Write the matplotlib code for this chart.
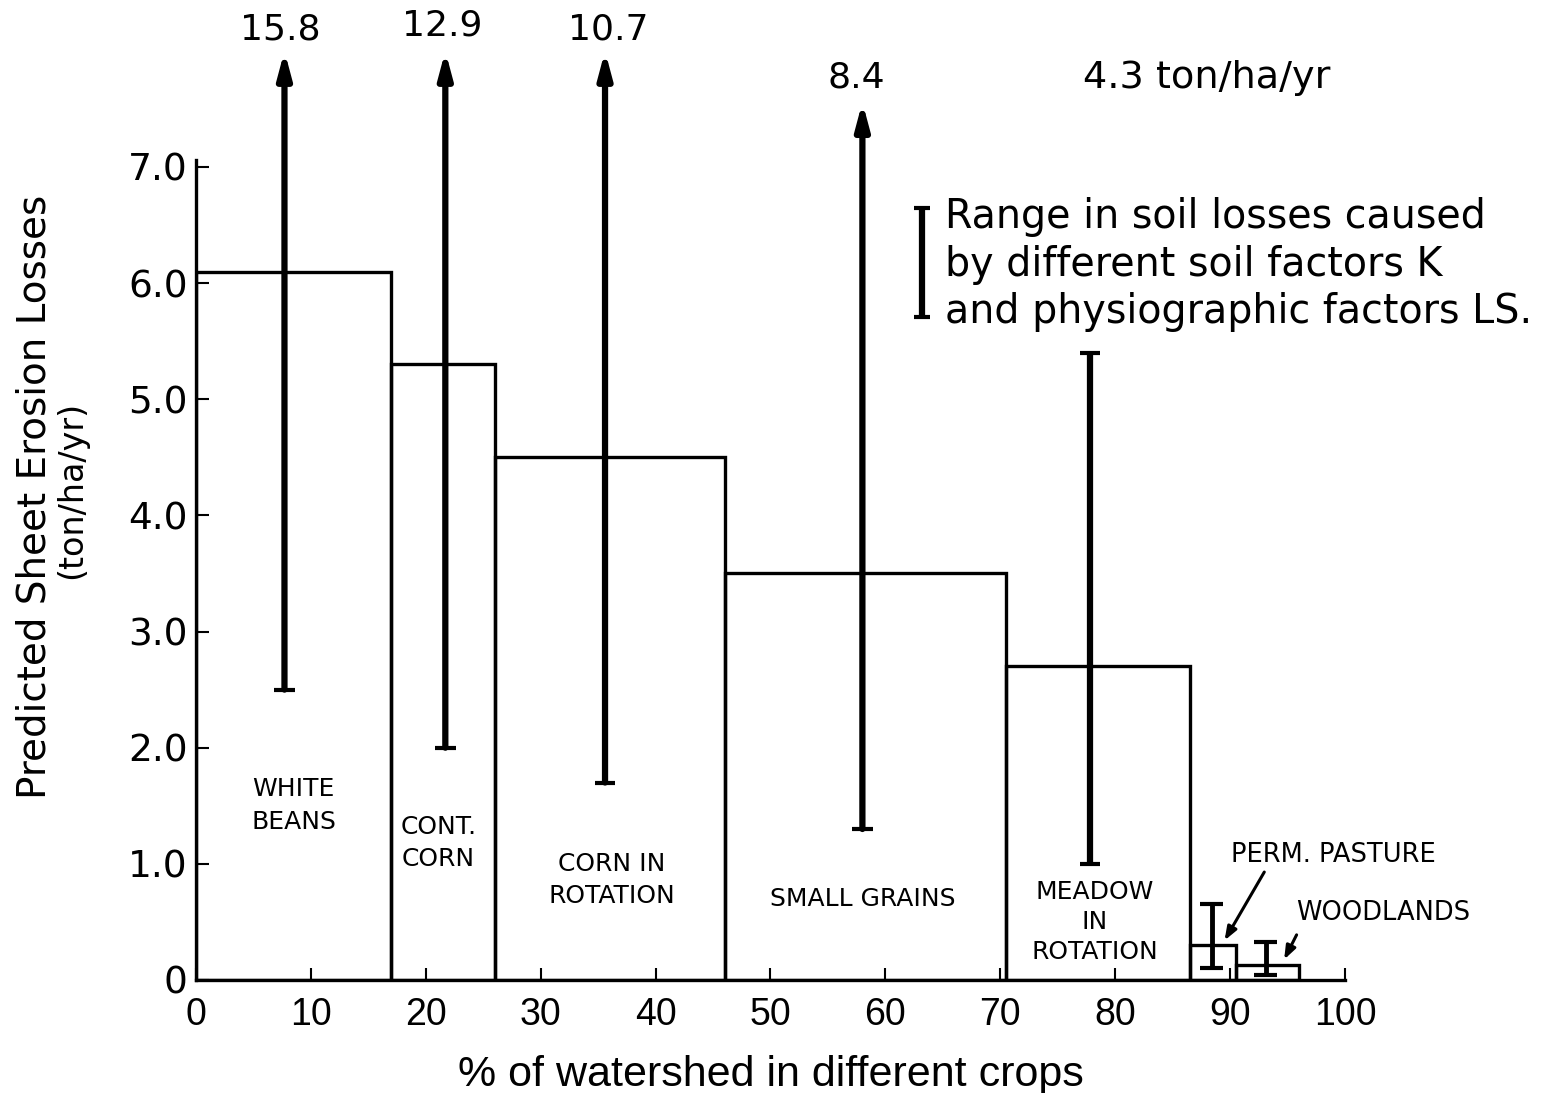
import numpy as np
import matplotlib
matplotlib.use("Agg")
import matplotlib.pyplot as plt

plt.rcParams['font.family'] = ['DejaVu Sans']

# crop blocks: left/right edge in % of watershed, predicted mean loss
crops = ["WHITE\nBEANS", "CONT.\nCORN", "CORN IN\nROTATION", "SMALL GRAINS",
         "MEADOW\nIN\nROTATION", "PERM. PASTURE", "WOODLANDS"]
edges = [0, 17, 26, 46, 70.5, 86.5, 90.5, 96]
mean_loss = [6.1, 5.3, 4.5, 3.5, 2.7, 0.3, 0.13]

# range bars (x position, low, high); high=None -> off scale, arrow
range_x = [7.7, 21.7, 35.6, 58.0, 77.8, 88.4, 93.1]
range_low = [2.5, 2.0, 1.7, 1.3, 1.0, 0.10, 0.04]
range_high = [None, None, None, None, 5.4, 0.65, 0.33]
offscale_labels = ["15.8", "12.9", "10.7", "8.4"]
arrow_top = [8.0, 8.0, 8.0, 7.56]
label_xy = [(7.3, 8.18), (21.4, 8.22), (35.9, 8.18), (57.5, 7.77)]

# inner label positions
inner_xy = [(8.5, 1.5), (21.1, 1.18), (36.2, 0.86), (58.0, 0.70), (78.2, 0.5)]
inner_spacing = [1.45, 1.4, 1.45, 1.4, 1.3]

fig = plt.figure(figsize=(15.63, 10.93), dpi=100)
ax = fig.add_axes([0.1254, 0.1034, 0.7351, 0.7502])

widths = np.diff(edges)
ax.bar(edges[:-1], mean_loss, width=widths, align='edge', fill=False,
       edgecolor='black', linewidth=2.4)

for i, x in enumerate(range_x):
    lo = range_low[i]
    hi = range_high[i]
    small = i >= 5
    cap = 0.9 if not small else 1.0
    lw = 4.5 if not small else 3.5
    if hi is None:
        ax.annotate("", xy=(x, arrow_top[i]), xytext=(x, lo),
                    arrowprops=dict(arrowstyle="-|>,head_length=1.5,head_width=0.4",
                                    color='black', lw=lw, shrinkA=0, shrinkB=0),
                    annotation_clip=False)
        ax.hlines(lo, x - cap, x + cap, color='black', lw=3)
        tx, ty = label_xy[i]
        ax.text(tx, ty, offscale_labels[i], ha='center', va='center',
                fontsize=26, clip_on=False)
    else:
        ax.vlines(x, lo, hi, color='black', lw=lw)
        ax.hlines([lo, hi], x - cap, x + cap, color='black', lw=3)

ax.text(88.0, 7.77, "4.3 ton/ha/yr", ha='center', va='center', fontsize=27.5,
        clip_on=False)

for i, (tx, ty) in enumerate(inner_xy):
    ax.text(tx, ty, crops[i], ha='center', va='center', fontsize=18,
            linespacing=inner_spacing[i])

ax.text(99.0, 1.08, crops[5], ha='center', va='center', fontsize=18.5, clip_on=False)
ax.text(103.3, 0.58, crops[6], ha='center', va='center', fontsize=18.5, clip_on=False)
ax.annotate("", xy=(89.4, 0.32), xytext=(93.1, 0.95),
            arrowprops=dict(arrowstyle="-|>,head_length=0.8,head_width=0.3",
                            color='black', lw=2.2), annotation_clip=False)
ax.annotate("", xy=(94.6, 0.155), xytext=(95.9, 0.41),
            arrowprops=dict(arrowstyle="-|>,head_length=0.8,head_width=0.3",
                            color='black', lw=2.2), annotation_clip=False)

# key for the range bars
ax.vlines(63.2, 5.71, 6.65, color='black', lw=4.5)
ax.hlines([5.71, 6.65], 62.5, 63.9, color='black', lw=3)
ax.text(65.2, 6.16, "Range in soil losses caused\nby different soil factors K\nand physiographic factors LS.",
        ha='left', va='center', fontsize=28.5, linespacing=1.25)

ax.set_xlim(0, 100)
ax.set_ylim(0, 7.06)
ax.spines['top'].set_visible(False)
ax.spines['right'].set_visible(False)
ax.spines['left'].set_linewidth(2.4)
ax.spines['bottom'].set_linewidth(2.4)

ax.set_xticks(np.arange(0, 101, 10))
ax.set_xticklabels([str(v) for v in range(0, 101, 10)],
                   fontfamily='Liberation Sans', fontsize=27)
ax.set_yticks(np.arange(0, 8, 1.0))
ax.set_yticklabels(["0"] + [f"{v:.1f}" for v in np.arange(1, 8, 1.0)], fontsize=27)
ax.tick_params(direction='in', length=9, width=1.5, pad=6)
ax.tick_params(axis='x', pad=12)

ax.set_xlabel("% of watershed in different crops", fontsize=31, labelpad=16,
              fontfamily='Liberation Sans')
fig.text(0.022, 0.545, "Predicted Sheet Erosion Losses", rotation=90,
         ha='center', va='center', fontsize=28)
fig.text(0.046, 0.552, "(ton/ha/yr)", rotation=90, ha='center', va='center',
         fontsize=24)

fig.savefig("out.png", dpi=100)
